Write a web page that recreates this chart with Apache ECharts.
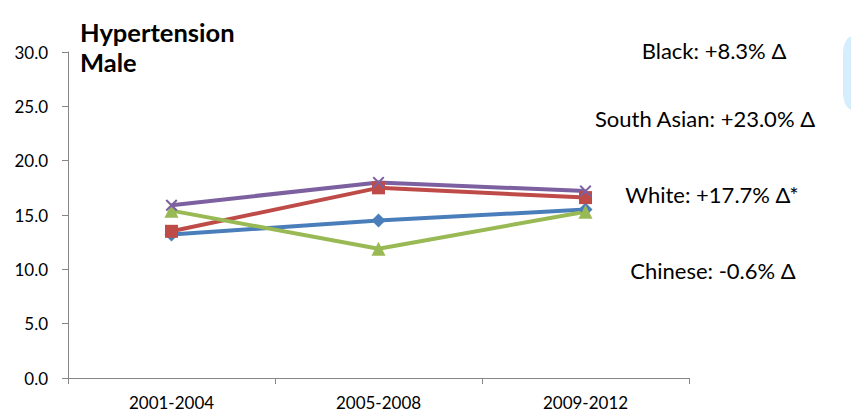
<!DOCTYPE html>
<html>
<head>
<meta charset="utf-8">
<script src="https://cdn.jsdelivr.net/npm/echarts@6/dist/echarts.min.js"></script>
<style>
  html, body { margin: 0; padding: 0; background: #fff; }
  #chart { width: 851px; height: 417px; }
</style>
</head>
<body>
<div id="chart"></div>
<script>
// Periods on the x axis
const periods = ['2001-2004', '2005-2008', '2009-2012'];

// Hypertension prevalence (%) among males, by group
const white = [13.2, 14.5, 15.5];
const southAsian = [13.5, 17.5, 16.6];
const chinese = [15.4, 11.9, 15.3];
const black = [15.9, 18.0, 17.2];

// Change annotations shown at the right (text, value-axis position)
const noteTexts = ['Black: +8.3% Δ', 'South Asian: +23.0% Δ', 'White: +17.7% Δ*', 'Chinese: -0.6% Δ'];
const noteLevels = [30.1, 23.9, 16.9, 9.9];

const FONT = 'Lato, "Open Sans", sans-serif';
const xMark = 'path://M0,1.2L1.2,0L5,3.8L8.8,0L10,1.2L6.2,5L10,8.8L8.8,10L5,6.2L1.2,10L0,8.8L3.8,5Z';

function line(name, data, color, symbol, size) {
  return {
    name, type: 'line', data,
    symbol, symbolSize: size,
    lineStyle: { color, width: 4 },
    itemStyle: { color },
    z: 2
  };
}

const chart = echarts.init(document.getElementById('chart'), null, { renderer: 'svg' });

chart.setOption({
  animation: false,
  grid: { left: 68, right: 162, top: 52, bottom: 39 },
  title: {
    text: 'Hypertension\nMale',
    left: 75, top: 12,
    textStyle: { fontFamily: FONT, fontWeight: 'bold', fontSize: 25.5, lineHeight: 30, color: '#000' }
  },
  xAxis: {
    type: 'category',
    data: periods,
    boundaryGap: true,
    axisLine: { lineStyle: { color: '#868686', width: 1 } },
    axisTick: { show: true, alignWithLabel: false, length: 6, lineStyle: { color: '#868686' } },
    axisLabel: { fontFamily: FONT, fontSize: 17, color: '#000', margin: 16 },
    splitLine: { show: false }
  },
  yAxis: {
    type: 'value',
    min: 0, max: 30, interval: 5,
    axisLine: { show: true, lineStyle: { color: '#868686', width: 1 } },
    axisTick: { show: true, length: 6, lineStyle: { color: '#868686' } },
    axisLabel: { fontFamily: FONT, fontSize: 17, color: '#000', margin: 20, formatter: v => v.toFixed(1) },
    splitLine: { show: false }
  },
  series: [
    line('White', white, '#4a7ebb', 'diamond', 14),
    line('South Asian', southAsian, '#be4b48', 'rect', 13),
    line('Chinese', chinese, '#98b954', 'triangle', 14),
    line('Black', black, '#7d60a0', xMark, 12)
  ]
});

// Right-hand annotations, placed on the value scale
const centers = [714, 705, 712, 713];
const graphics = noteTexts.map((t, i) => ({
  type: 'text',
  x: centers[i],
  y: chart.convertToPixel({ yAxisIndex: 0 }, noteLevels[i]),
  style: {
    text: t, fontFamily: FONT, fontSize: 22, fill: '#000',
    textAlign: 'center', textVerticalAlign: 'middle'
  }
}));

// Pale decorative shape at the right edge
graphics.push({
  type: 'polygon',
  shape: { points: [[851, 36], [847, 39], [844, 45], [843, 52], [843, 96], [845, 104], [848, 108], [851, 110]] },
  style: { fill: '#d6edfb' },
  silent: true
});

chart.setOption({ graphic: graphics });
</script>
</body>
</html>
